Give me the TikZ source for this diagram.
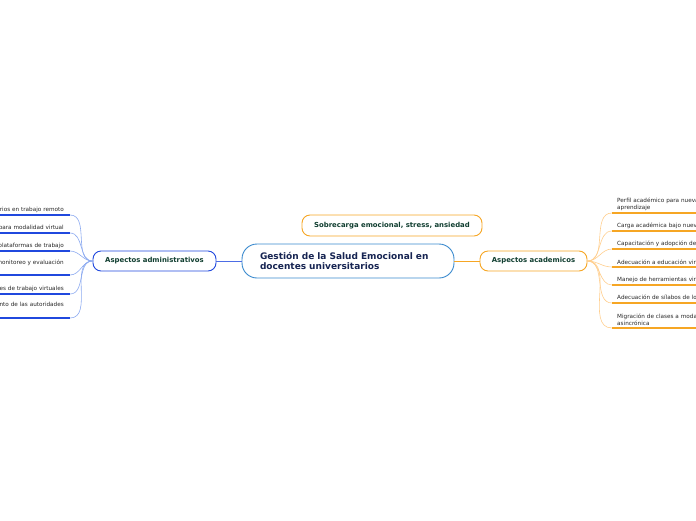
\documentclass[tikz,border=0pt]{standalone}
\usepackage{fontspec}
\setmainfont{DejaVu Sans}
\usetikzlibrary{positioning}
\definecolor{rootblue}{RGB}{58,138,206}
\definecolor{adminblue}{RGB}{32,72,222}
\definecolor{adminlight}{RGB}{140,170,240}
\definecolor{acorange}{RGB}{246,166,36}
\definecolor{aclight}{RGB}{255,206,142}
\definecolor{topicgreen}{RGB}{16,62,48}
\definecolor{rootnavy}{RGB}{22,36,82}
\definecolor{leafgray}{RGB}{40,40,40}

\begin{document}
\begin{tikzpicture}[
      x=1pt, y=-1pt,
      root/.style={rectangle, draw=rootblue, line width=0.9pt, fill=white,
                   rounded corners=15pt, minimum width=212pt, minimum height=34pt,
                   text width=176pt, align=left, text=rootnavy,
                   font=\bfseries\fontsize{9}{10.6}\selectfont},
      topic/.style={rectangle, line width=0.9pt, fill=white,
                    rounded corners=8pt, minimum height=20pt, inner sep=0pt,
                    align=center, text=topicgreen,
                    font=\bfseries\fontsize{6.9}{8}\selectfont},
      leafR/.style={anchor=south west, text width=92pt, align=left,
                    inner xsep=5pt, inner ysep=2.6pt, text=leafgray,
                    font=\fontsize{5.7}{7}\selectfont},
      leafL/.style={anchor=south east, text width=92pt, align=right,
                    inner xsep=6pt, inner ysep=2.6pt, text=leafgray,
                    font=\fontsize{5.7}{7}\selectfont},
      adminbranch/.style={draw=adminlight, line width=0.6pt},
      acbranch/.style={draw=aclight, line width=0.6pt},
      adminunder/.style={draw=adminblue, line width=1.3pt},
      acunder/.style={draw=acorange, line width=1.3pt}
    ]
    \clip (0,0) rectangle (696,520);
    \useasboundingbox (0,0) rectangle (696,520);

    % --- central topic and main branches ---
    \node[root] (root) at (348,261) {Gestión de la Salud Emocional en\\docentes universitarios};
    \node[topic, draw=acorange, minimum width=180pt, minimum height=21pt] (stress) at (392,225.5) {Sobrecarga emocional, stress, ansiedad};
    \node[topic, draw=adminblue, minimum width=123pt] (admin) at (154.5,261) {Aspectos administrativos};
    \node[topic, draw=acorange, minimum width=107pt] (acad) at (533.5,261) {Aspectos academicos};

    \draw[draw=adminblue!80, line width=1pt] (root) -- (admin);
    \draw[draw=acorange, line width=1pt] (root) -- (acad);

    % --- academic subtopics (cut at the right edge) ---
    \node[leafR] (ac1) at (612,213) {Perfil académico para nueva\\aprendizaje};
    \node[leafR] (ac2) at (612,231) {Carga académica bajo nueva};
    \node[leafR] (ac3) at (612,249) {Capacitación y adopción de n};
    \node[leafR] (ac4) at (612,267) {Adecuación a educación virtu};
    \node[leafR] (ac5) at (612,285) {Manejo de herramientas virt};
    \node[leafR] (ac6) at (612,303) {Adecuación de sílabos de lo p};
    \node[leafR] (ac7) at (612,328) {Migración de clases a modali\\asincrónica};

    \draw[acbranch] (acad.east) to[out=0,in=180] (ac1.south west);
    \draw[acbranch] (acad.east) to[out=0,in=180] (ac2.south west);
    \draw[acbranch] (acad.east) to[out=0,in=180] (ac3.south west);
    \draw[acbranch] (acad.east) to[out=0,in=180] (ac4.south west);
    \draw[acbranch] (acad.east) to[out=0,in=180] (ac5.south west);
    \draw[acbranch] (acad.east) to[out=0,in=180] (ac6.south west);
    \draw[acbranch] (acad.east) to[out=0,in=180] (ac7.south west);

    \draw[acunder] (ac1.south west) -- (ac1.south east);
    \draw[acunder] (ac2.south west) -- (ac2.south east);
    \draw[acunder] (ac3.south west) -- (ac3.south east);
    \draw[acunder] (ac4.south west) -- (ac4.south east);
    \draw[acunder] (ac5.south west) -- (ac5.south east);
    \draw[acunder] (ac6.south west) -- (ac6.south east);
    \draw[acunder] (ac7.south west) -- (ac7.south east);

    % --- administrative subtopics (cut at the left edge) ---
    \node[leafL] (ad1) at (70,215) {arios en trabajo remoto};
    \node[leafL] (ad2) at (70,233) {s para modalidad virtual};
    \node[leafL] (ad3) at (70,251) {e plataformas de trabajo};
    \node[leafL, minimum height=19pt, text depth=7pt] (ad4) at (70,275) {monitoreo y evaluación};
    \node[leafL] (ad5) at (70,294) {ones de trabajo virtuales};
    \node[leafL, minimum height=19pt, text depth=7pt] (ad6) at (70,318) {iento de las autoridades};

    \draw[adminbranch] (admin.west) to[out=180,in=0] (ad1.south east);
    \draw[adminbranch] (admin.west) to[out=180,in=0] (ad2.south east);
    \draw[adminbranch] (admin.west) to[out=180,in=0] (ad3.south east);
    \draw[adminbranch] (admin.west) to[out=180,in=0] (ad4.south east);
    \draw[adminbranch] (admin.west) to[out=180,in=0] (ad5.south east);
    \draw[adminbranch] (admin.west) to[out=180,in=0] (ad6.south east);

    \draw[adminunder] (ad1.south west) -- (ad1.south east);
    \draw[adminunder] (ad2.south west) -- (ad2.south east);
    \draw[adminunder] (ad3.south west) -- (ad3.south east);
    \draw[adminunder] (ad4.south west) -- (ad4.south east);
    \draw[adminunder] (ad5.south west) -- (ad5.south east);
    \draw[adminunder] (ad6.south west) -- (ad6.south east);
\end{tikzpicture}
\end{document}
